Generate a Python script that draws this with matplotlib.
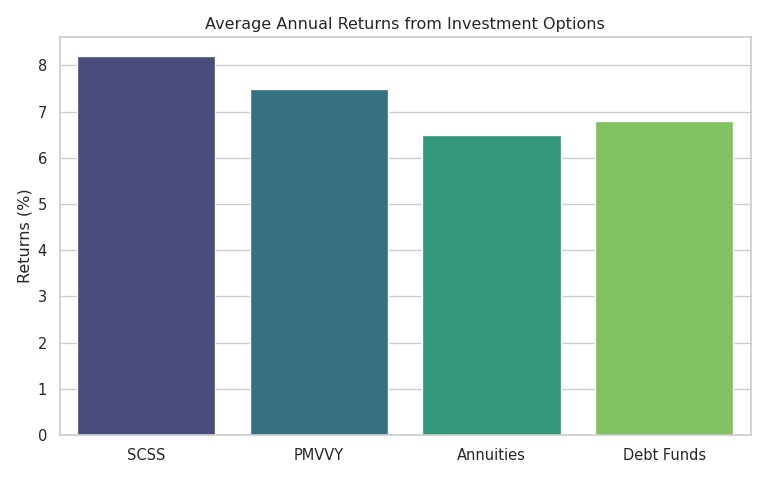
import matplotlib
matplotlib.use("Agg")
import matplotlib.pyplot as plt
import seaborn as sns
import pandas as pd

options = ["SCSS", "PMVVY", "Annuities", "Debt Funds"]
returns = [8.2, 7.5, 6.5, 6.8]

sns.set_theme(style="whitegrid")
df = pd.DataFrame({"Option": options, "Returns": returns})

fig, ax = plt.subplots(figsize=(8, 5), dpi=96)
sns.barplot(data=df, x="Option", y="Returns", hue="Option", palette="viridis", legend=False, ax=ax)
ax.set_title("Average Annual Returns from Investment Options")
ax.set_xlabel("")
ax.set_ylabel("Returns (%)")
fig.tight_layout()
fig.savefig("out.png", dpi=96)
